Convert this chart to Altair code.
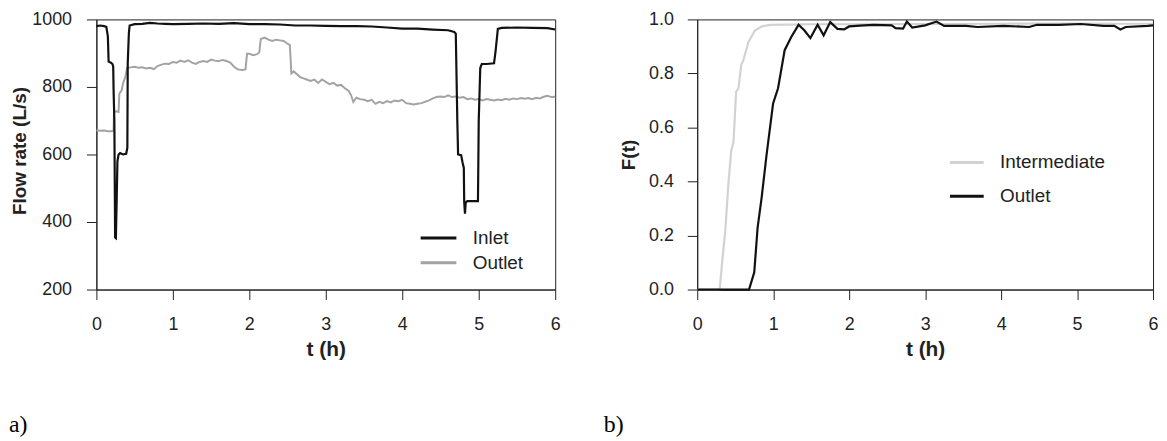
import altair as alt
import pandas as pd

# ---------------- Panel a: flow rate ----------------
inlet_t = [0.00, 0.05, 0.10, 0.13, 0.15, 0.16, 0.19, 0.21, 0.22, 0.225,
           0.235, 0.245, 0.255, 0.265, 0.275, 0.29, 0.31, 0.35, 0.39, 0.405,
           0.41, 0.425, 0.435, 0.50, 0.60, 0.70, 0.80, 0.90, 1.00, 1.20,
           1.40, 1.60, 1.80, 2.00, 2.20, 2.40, 2.60, 2.80, 3.00, 3.20,
           3.40, 3.60, 3.80, 4.00, 4.20, 4.40, 4.60, 4.68, 4.70, 4.72,
           4.73, 4.77, 4.79, 4.805, 4.81, 4.82, 4.83, 4.85, 4.95, 4.99,
           5.00, 5.02, 5.04, 5.10, 5.20, 5.22, 5.25, 5.30, 5.50, 5.70,
           5.90, 6.00]
inlet_q = [980, 982, 980, 978, 950, 875, 872, 868, 860, 790,
           700, 354, 352, 460, 580, 600, 604, 600, 602, 620,
           870, 960, 982, 986, 987, 990, 988, 987, 986, 987,
           988, 987, 989, 986, 986, 985, 982, 982, 981, 980,
           980, 979, 976, 973, 973, 970, 968, 963, 958, 700,
           600, 598, 575, 560, 460, 425, 458, 462, 462, 462,
           700, 856, 868, 868, 870, 905, 972, 975, 976, 975,
           974, 970]

outlet_a_t = [0.00, 0.05, 0.10, 0.15, 0.20, 0.225, 0.23, 0.26, 0.29, 0.30,
              0.33, 0.35, 0.38, 0.40, 0.45, 0.50, 0.55, 0.60, 0.65, 0.70,
              0.75, 0.80, 0.85, 0.90, 0.95, 1.00, 1.05, 1.10, 1.15, 1.20,
              1.25, 1.30, 1.35, 1.40, 1.45, 1.50, 1.55, 1.60, 1.65, 1.70,
              1.75, 1.80, 1.85, 1.90, 1.95, 1.97, 2.00, 2.05, 2.10, 2.13,
              2.15, 2.20, 2.25, 2.30, 2.35, 2.40, 2.45, 2.50, 2.53, 2.55,
              2.58, 2.62, 2.66, 2.70, 2.75, 2.80, 2.85, 2.90, 2.95, 3.00,
              3.05, 3.10, 3.15, 3.20, 3.25, 3.30, 3.33, 3.36, 3.40, 3.45,
              3.50, 3.55, 3.60, 3.65, 3.70, 3.75, 3.80, 3.85, 3.90, 3.95,
              4.00, 4.05, 4.10, 4.15, 4.20, 4.25, 4.30, 4.35, 4.40, 4.45,
              4.50, 4.55, 4.60, 4.65, 4.70, 4.75, 4.80, 4.85, 4.90, 4.95,
              5.00, 5.05, 5.10, 5.15, 5.20, 5.25, 5.30, 5.35, 5.40, 5.45,
              5.50, 5.55, 5.60, 5.65, 5.70, 5.75, 5.80, 5.85, 5.90, 5.95,
              6.00]
outlet_a_q = [672, 670, 671, 669, 669, 670, 726, 728, 726, 780,
              790, 812, 830, 856, 858, 860, 857, 858, 855, 857,
              853, 862, 866, 869, 868, 874, 872, 878, 874, 879,
              872, 868, 874, 877, 874, 881, 878, 876, 880, 877,
              872, 860, 852, 850, 852, 898, 898, 894, 897, 902,
              942, 946, 940, 936, 940, 938, 936, 928, 924, 840,
              846, 838, 830, 826, 822, 818, 822, 812, 822, 815,
              808, 812, 804, 806, 796, 788, 776, 756, 768, 764,
              762, 758, 762, 750, 756, 752, 758, 754, 760, 758,
              762, 752, 750, 748, 750, 752, 756, 760, 766, 770,
              772, 770, 775, 770, 772, 768, 770, 764, 766, 762,
              764, 760, 764, 762, 760, 763, 761, 765, 762, 766,
              764, 767, 765, 767, 764, 768, 766, 771, 774, 770,
              771]

# ---------------- Panel b: F(t) ----------------
inter_t = [0.0, 0.295, 0.326, 0.369, 0.41, 0.447, 0.478, 0.512, 0.543, 0.578,
           0.608, 0.673, 0.76, 0.848, 0.956, 1.5, 2.0, 3.0, 4.0, 5.0,
           5.5, 6.0]
inter_f = [0.0, 0.0, 0.094, 0.217, 0.389, 0.512, 0.548, 0.732, 0.745, 0.83,
           0.849, 0.916, 0.959, 0.974, 0.98, 0.982, 0.982, 0.983, 0.984, 0.985,
           0.984, 0.984]

outlet_b_t = [0.0, 0.682, 0.751, 0.795, 0.848, 0.913, 0.999, 1.064, 1.151, 1.238,
              1.334, 1.412, 1.49, 1.585, 1.664, 1.751, 1.846, 1.934, 1.999, 2.14,
              2.32, 2.56, 2.61, 2.71, 2.76, 2.83, 3.0, 3.15, 3.25, 3.54,
              3.69, 4.03, 4.37, 4.47, 4.76, 5.05, 5.35, 5.49, 5.57, 5.64,
              5.93, 6.0]
outlet_b_f = [0.0, 0.0, 0.064, 0.229, 0.34, 0.499, 0.689, 0.745, 0.886, 0.935,
              0.98, 0.959, 0.931, 0.98, 0.941, 0.99, 0.965, 0.963, 0.974, 0.977,
              0.98, 0.978, 0.968, 0.966, 0.992, 0.97, 0.978, 0.992, 0.976, 0.976,
              0.972, 0.976, 0.972, 0.98, 0.98, 0.983, 0.976, 0.976, 0.963, 0.972,
              0.976, 0.978]

x_ticks = [0, 1, 2, 3, 4, 5, 6]
ya_ticks = [200, 400, 600, 800, 1000]
yb_ticks = [0.0, 0.2, 0.4, 0.6, 0.8, 1.0]

series_a = ["Inlet", "Outlet"]
colors_a = ["#111111", "#a3a3a3"]
series_b = ["Intermediate", "Outlet"]
colors_b = ["#d2d2d2", "#111111"]

df_a = pd.concat([
    pd.DataFrame({"t": inlet_t, "v": inlet_q, "series": "Inlet"}),
    pd.DataFrame({"t": outlet_a_t, "v": outlet_a_q, "series": "Outlet"}),
])
df_b = pd.concat([
    pd.DataFrame({"t": inter_t, "v": inter_f, "series": "Intermediate"}),
    pd.DataFrame({"t": outlet_b_t, "v": outlet_b_f, "series": "Outlet"}),
])

FONT = "Liberation Sans"
INK = "#222222"


def x_axis():
    return alt.Axis(values=x_ticks, format="d", title="t (h)", grid=False,
                    tickSize=10, labelPadding=16, titlePadding=5,
                    labelFontSize=18, titleFontSize=21, titleFontWeight="bold",
                    labelFont=FONT, titleFont=FONT, labelColor=INK, titleColor=INK,
                    domainColor=INK, tickColor=INK, labelFlush=False)


def legend(x, y, size, rowpad):
    return alt.Legend(title=None, orient="none", legendX=x, legendY=y,
                      symbolType="stroke", symbolSize=size, symbolStrokeWidth=3,
                      labelFontSize=19, labelFont=FONT, labelColor=INK,
                      labelOffset=15, rowPadding=rowpad, padding=0, clipHeight=20)


W_A, W_B, H = 462, 459, 272

color_a = alt.Color("series:N", scale=alt.Scale(domain=series_a, range=colors_a),
                    legend=legend(325, 210, 1296, 5))
enc_a = dict(
    x=alt.X("t:Q", scale=alt.Scale(domain=[0, 6], nice=False), axis=x_axis()),
    y=alt.Y("v:Q", scale=alt.Scale(domain=[200, 1000], nice=False),
            axis=alt.Axis(values=ya_ticks, format="d", title="Flow rate (L/s)",
                          grid=False, tickSize=10, labelPadding=15, titlePadding=2,
                          titleY=132,
                          labelFontSize=18, titleFontSize=19, titleFontWeight="bold",
                          labelFont=FONT, titleFont=FONT, labelColor=INK,
                          titleColor=INK, domainColor=INK, tickColor=INK,
                          labelFlush=False)),
    color=color_a,
)
base_a = alt.Chart(df_a)
panel_a = alt.layer(
    base_a.transform_filter(alt.datum.series == "Outlet").mark_line(strokeWidth=2).encode(**enc_a),
    base_a.transform_filter(alt.datum.series == "Inlet").mark_line(strokeWidth=2.2).encode(**enc_a),
).properties(
    width=W_A, height=H,
    title=alt.TitleParams("a)", orient="bottom", anchor="start", frame="group",
                          dx=-88, offset=54, font="Liberation Serif", fontSize=24,
                          fontWeight="normal", color="#000000"),
)

color_b = alt.Color("series:N", scale=alt.Scale(domain=series_b, range=colors_b),
                    legend=legend(253, 134, 1156, 14))
enc_b = dict(
    x=alt.X("t:Q", scale=alt.Scale(domain=[0, 6], nice=False), axis=x_axis()),
    y=alt.Y("v:Q", scale=alt.Scale(domain=[0, 1], nice=False),
            axis=alt.Axis(values=yb_ticks, format=".1f", title="F(t)", grid=False,
                          tickSize=10, labelPadding=14, titlePadding=10,
                          labelFontSize=18, titleFontSize=19, titleFontWeight="bold",
                          labelFont=FONT, titleFont=FONT, labelColor=INK,
                          titleColor=INK, domainColor=INK, tickColor=INK,
                          labelFlush=False)),
    color=color_b,
)
base_b = alt.Chart(df_b)
panel_b = alt.layer(
    base_b.transform_filter(alt.datum.series == "Intermediate").mark_line(strokeWidth=2.2).encode(**enc_b),
    base_b.transform_filter(alt.datum.series == "Outlet").mark_line(strokeWidth=2.2).encode(**enc_b),
).properties(
    width=W_B, height=H,
    title=alt.TitleParams("b)", orient="bottom", anchor="start", frame="group",
                          dx=-94, offset=54, font="Liberation Serif", fontSize=24,
                          fontWeight="normal", color="#000000"),
)

chart = alt.hconcat(panel_a, panel_b, spacing=143, bounds="flush").resolve_scale(
    color="independent"
).properties(
    padding={"left": 0, "top": 0, "right": 0, "bottom": 0},
    background="#ffffff",
).configure_view(stroke=INK, strokeWidth=1)

chart.save("out.html", embed_options={"renderer": "svg", "actions": False})
